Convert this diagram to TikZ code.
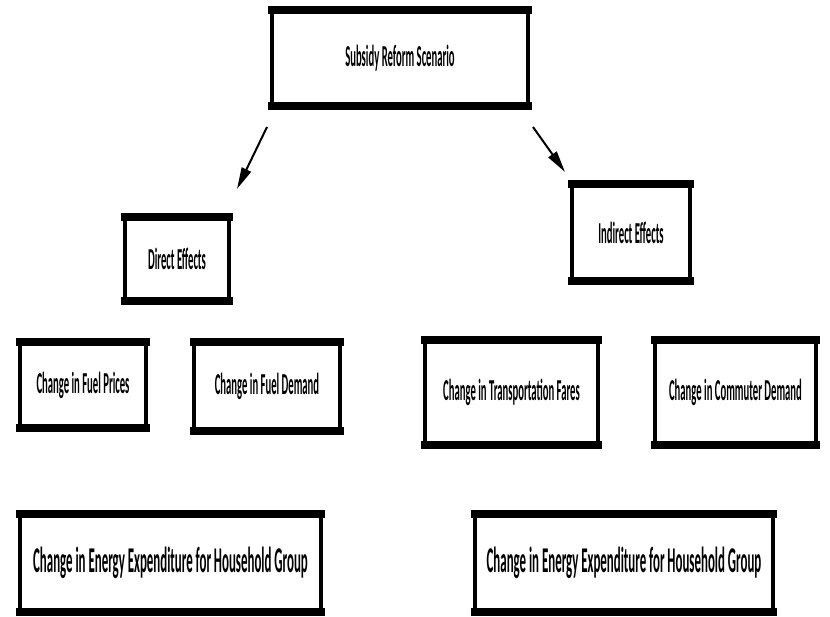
\documentclass[tikz,border=0pt]{standalone}
\usepackage{fontspec}
\usetikzlibrary{arrows.meta}
\newfontfamily\boxfont{Carlito}[FakeStretch=0.35]
\newfontfamily\bigboxfont{Carlito}[FakeStretch=0.355]
\tikzset{
box/.style={rectangle,draw=black,line width=1.2mm,fill=white,
inner sep=0pt,align=center,font=\boxfont\bfseries\fontsize{26}{30}\selectfont},
bigbox/.style={box,font=\bigboxfont\bfseries\fontsize{31}{35}\selectfont},
bar/.style={line width=2.4mm,line cap=butt},
effect/.style={line width=0.6mm,-{Triangle[length=6.5mm,width=3mm]}}
}

\begin{document}
\begin{tikzpicture}[x=0.3mm,y=-0.3mm]
	\useasboundingbox (0,0) rectangle (830,616);

	\node [box,minimum width=76.8mm,minimum height=28.8mm] (scen) at (400,58) {Subsidy Reform Scenario};

	\node [box,minimum width=31.2mm,minimum height=25.2mm] (direct) at (177,259) {Direct Effects};
	\node [box,minimum width=35.4mm,minimum height=29.1mm] (indirect) at (631,232.5) {Indirect Effects};

	\node [box,minimum width=37.8mm,minimum height=25.8mm] (fprice) at (83,385) {Change in Fuel Prices};
	\node [box,minimum width=43.8mm,minimum height=26.7mm] (fdemand) at (267,386.5) {Change in Fuel Demand};
	\node [box,minimum width=51.9mm,minimum height=31.5mm] (fares) at (511.5,392.5) {Change in Transportation Fares};
	\node [box,minimum width=48.3mm,minimum height=31.5mm] (commuter) at (735.5,392.5) {Change in Commuter Demand};

	\node [bigbox,minimum width=90.3mm,minimum height=29.4mm] (expleft) at (170.5,563) {Change in Energy Expenditure for Household Group};
	\node [bigbox,minimum width=89.4mm,minimum height=29.4mm] (expright) at (624,563) {Change in Energy Expenditure for Household Group};

	% heavy top and bottom edges
	\foreach \n in {scen,direct,indirect,fprice,fdemand,fares,commuter,expleft,expright}{
		\draw [bar] ([xshift=-0.6mm,yshift=-0.6mm]\n.north west) -- ([xshift=0.6mm,yshift=-0.6mm]\n.north east);
		\draw [bar] ([xshift=-0.6mm,yshift=0.6mm]\n.south west) -- ([xshift=0.6mm,yshift=0.6mm]\n.south east);
	}

	\coordinate (lstart) at (267,127);
	\coordinate (lend) at (237,189);
	\coordinate (rstart) at (533,127);
	\coordinate (rend) at (565,172);
	\draw [effect] (lstart) -- (lend);
	\draw [effect] (rstart) -- (rend);

\end{tikzpicture}
\end{document}
